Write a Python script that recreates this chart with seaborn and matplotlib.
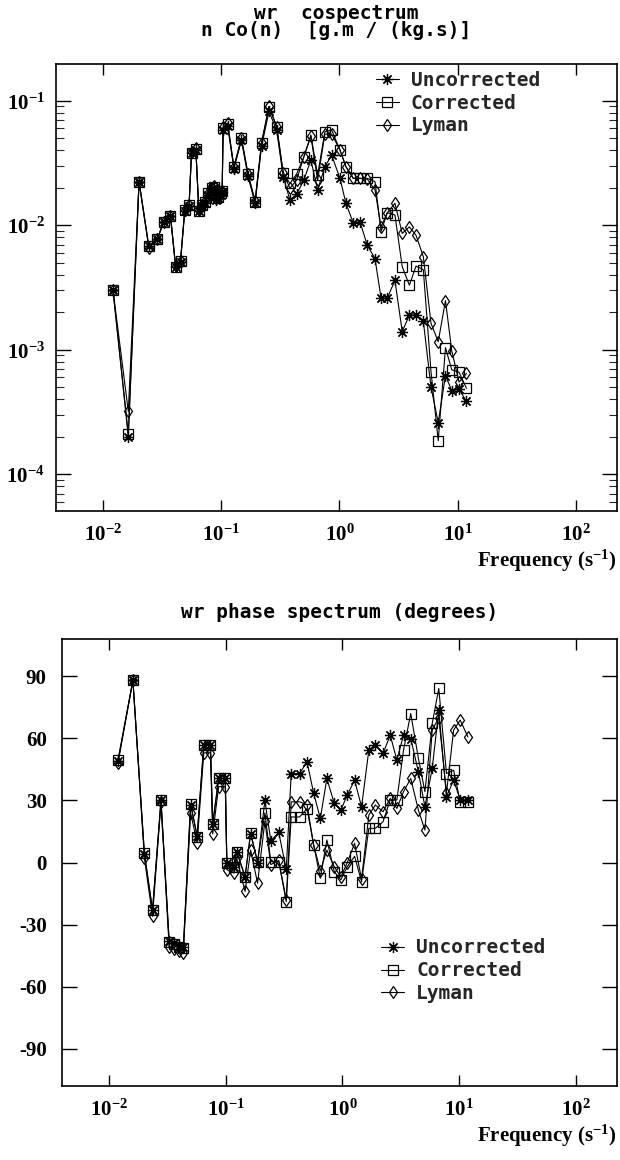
import math
import matplotlib
matplotlib.use("Agg")
import matplotlib.pyplot as plt
import seaborn as sns
from matplotlib.ticker import FixedLocator, LogLocator, NullFormatter, FuncFormatter

# ---------------------------------------------------------------- data
# cospectrum n*Co(n) of w and r, [g.m / (kg.s)]
cosp_freq = [0.0121, 0.0163, 0.0201, 0.0243, 0.0286, 0.0326, 0.0371, 0.041, 0.0451, 0.049,
             0.0533, 0.0559, 0.0608, 0.0645, 0.0692, 0.0729, 0.0773, 0.0826, 0.0864, 0.0897,
             0.094, 0.0984, 0.1016, 0.1035, 0.113, 0.1277, 0.148, 0.168, 0.193, 0.219,
             0.253, 0.294, 0.334, 0.381, 0.434, 0.5, 0.573, 0.653, 0.753, 0.859,
             1.01, 1.135, 1.31, 1.49, 1.72, 2.0, 2.25, 2.54, 2.95, 3.4,
             3.91, 4.45, 5.13, 5.96, 6.86, 7.9, 8.93, 10.3, 11.9]
cosp_uncorrected = [0.0030, 2.0e-4, 0.0224, 0.0068, 0.0077, 0.0107, 0.0119, 0.0046, 0.0051, 0.013,
                    0.0143, 0.038, 0.0405, 0.013, 0.0143, 0.0152, 0.0176, 0.0194, 0.020, 0.016,
                    0.0165, 0.0176, 0.0184, 0.058, 0.063, 0.0285, 0.048, 0.0248, 0.015, 0.043,
                    0.082, 0.058, 0.0245, 0.0159, 0.0178, 0.0231, 0.0334, 0.0192, 0.0295, 0.0366,
                    0.0238, 0.015, 0.0104, 0.0107, 0.0069, 0.0054, 0.0026, 0.0026, 0.0036, 0.0014,
                    0.0019, 0.0019, 0.0017, 5.0e-4, 2.6e-4, 6.2e-4, 4.7e-4, 4.8e-4, 3.85e-4]
cosp_corrected = [0.0030, 2.1e-4, 0.0224, 0.0068, 0.0077, 0.0107, 0.0119, 0.00465, 0.00515, 0.0132,
                  0.0145, 0.0382, 0.0409, 0.0131, 0.0145, 0.0155, 0.018, 0.0198, 0.0204, 0.0164,
                  0.0169, 0.018, 0.0188, 0.060, 0.065, 0.0292, 0.0499, 0.0256, 0.0155, 0.0455,
                  0.0895, 0.0618, 0.0261, 0.0217, 0.0258, 0.0355, 0.053, 0.0253, 0.0564, 0.0582,
                  0.0402, 0.0295, 0.0238, 0.0238, 0.0238, 0.0224, 0.0089, 0.0126, 0.0121, 0.00465,
                  0.0033, 0.0047, 0.0044, 6.65e-4, 1.86e-4, 1.04e-3, 6.9e-4, 6.6e-4, 4.9e-4]
cosp_lyman = [0.0030, 3.2e-4, 0.0224, 0.0066, 0.0077, 0.0107, 0.0119, 0.0047, 0.0052, 0.0133,
              0.0146, 0.039, 0.0415, 0.0132, 0.0146, 0.0157, 0.0182, 0.020, 0.0206, 0.0166,
              0.0171, 0.0182, 0.019, 0.061, 0.066, 0.0295, 0.050, 0.026, 0.0157, 0.046,
              0.090, 0.062, 0.0265, 0.0198, 0.0231, 0.0355, 0.052, 0.023, 0.054, 0.054,
              0.0402, 0.0295, 0.0238, 0.0238, 0.0235, 0.0192, 0.0097, 0.0126, 0.015, 0.0086,
              0.0097, 0.0083, 0.0056, 0.00163, 0.00116, 0.00248, 9.8e-4, 5.5e-4, 6.45e-4]

# phase spectrum of w and r, degrees
phase_freq = [0.0120, 0.0161, 0.0202, 0.0237, 0.0280, 0.0329, 0.0362, 0.0400, 0.0435, 0.0502,
              0.0571, 0.0651, 0.0742, 0.0776, 0.0873, 0.0994, 0.1026, 0.1169, 0.1247, 0.1469,
              0.1638, 0.1878, 0.2170, 0.2438, 0.2851, 0.3305, 0.3645, 0.4296, 0.498, 0.5675,
              0.647, 0.736, 0.851, 0.968, 1.102, 1.271, 1.458, 1.683, 1.914, 2.225,
              2.566, 2.924, 3.333, 3.845, 4.469, 5.083, 5.871, 6.68, 7.77, 8.95,
              10.19, 11.85]
phase_uncorrected = [49, 88, 4, -23, 30, -38, -39, -40.5, -41, 28,
                     13, 57, 57, 18.6, 40.6, 40.6, 0, -2, 5, -7,
                     14, 0, 30, 10.5, 14.5, -3.3, 43, 43, 48.6, 33.4,
                     21.3, 40.6, 28.6, 25.3, 32.6, 39.8, 26.9, 54.3, 56.7, 52.7,
                     61.5, 49.5, 61.5, 59.9, 43.8, 26.9, 45.5, 73.6, 31.8, 39.8,
                     30.2, 30.2]
phase_corrected = [49.5, 88, 4.4, -23, 30, -38.5, -39.5, -41, -41.5, 28.5,
                   12.5, 57, 57, 18.6, 40.6, 40.6, -0.4, -2, 5.2, -6.8,
                   14.4, 0.4, 24, 0.4, 0.4, -18.9, 22, 22, 26, 8.4,
                   -7.6, 10.9, -4.4, -8.4, -2, 3, -9.3, 16.5, 16.5, 19.7,
                   30.2, 30.2, 54.3, 72, 50.3, 34.2, 67.2, 84.1, 43, 44.6,
                   29.3, 29.3]
phase_lyman = [48, 88, 2, -26, 29, -41, -42, -43, -43.5, 24,
               9.5, 53, 53, 13.8, 36.7, 36.7, -3.5, -5, 2, -14,
               6, -10, 20, -1, 1, -18, 29.3, 29.3, 28, 8.4,
               -4, 6, -2, -7, 0, 9.3, -8, 22.9, 27.8, 24.5,
               31, 26.1, 34.2, 40.6, 25.3, 15.7, 64, 70, 33.7, 64,
               68.8, 60.7]

series_names = ["Uncorrected", "Corrected", "Lyman"]
x_ticks = [1e-2, 1e-1, 1e0, 1e1, 1e2]
cosp_ticks = [1e-4, 1e-3, 1e-2, 1e-1]
phase_ticks = [-90, -60, -30, 0, 30, 60, 90]
phase_tick_labels = ["-90", "-60", "-30", "0", "30", "60", "90"]

# ---------------------------------------------------------------- style
sns.set_theme(style="white")
plt.rcParams["font.family"] = ["DejaVu Sans"]
plt.rcParams["mathtext.fontset"] = "custom"
plt.rcParams["mathtext.rm"] = "Liberation Serif:bold"
plt.rcParams["mathtext.it"] = "Liberation Serif:bold"
plt.rcParams["mathtext.bf"] = "Liberation Serif:bold"

MONO = "DejaVu Sans Mono"
SERIF = "Liberation Serif"
TICK_SIZE = 15
MONO_SIZE = 14

marker_styles = {
    "Uncorrected": dict(marker=(8, 2, 0), markersize=8),
    "Corrected": dict(marker="s", markersize=7.5),
    "Lyman": dict(marker="d", markersize=6.5),
}

fig = plt.figure(figsize=(6.2, 11.6), dpi=100)
ax_top = fig.add_axes([56 / 620, 1 - 511 / 1160, 561 / 620, 447 / 1160])
ax_bot = fig.add_axes([62 / 620, 1 - 1086 / 1160, 555 / 620, 447 / 1160])

for ax in (ax_top, ax_bot):
    ax.set_xscale("log")
ax_top.set_yscale("log")


def draw_series(ax, freq, series):
    for name, vals in zip(series_names, series):
        sns.lineplot(x=freq, y=vals, ax=ax, color="black", linewidth=0.8,
                     markerfacecolor="none", markeredgecolor="black",
                     markeredgewidth=0.9, label=name, sort=False,
                     estimator=None, **marker_styles[name])


draw_series(ax_top, cosp_freq, [cosp_uncorrected, cosp_corrected, cosp_lyman])
draw_series(ax_bot, phase_freq, [phase_uncorrected, phase_corrected, phase_lyman])


def sci_label(v, pos):
    return r"$10^{%d}$" % round(math.log10(v))


for ax in (ax_top, ax_bot):
    ax.set_xlim(10 ** -2.40, 10 ** 2.35)
    ax.xaxis.set_major_locator(FixedLocator(x_ticks))
    ax.xaxis.set_major_formatter(FuncFormatter(sci_label))
    ax.xaxis.set_minor_locator(FixedLocator([]))
    for sp in ax.spines.values():
        sp.set_color("black")
        sp.set_linewidth(1.2)
    ax.tick_params(axis="x", which="major", direction="in", length=8, width=1.0,
                   top=True, bottom=True, pad=9, labelsize=TICK_SIZE, colors="black")
    ax.tick_params(axis="y", which="major", direction="in", length=11, width=1.0,
                   left=True, right=True, pad=8, labelsize=TICK_SIZE, colors="black")
    ax.set_xlabel(r"Frequency (s$^{-1}$)", loc="right", fontfamily=SERIF,
                  fontweight="bold", fontsize=TICK_SIZE, labelpad=2, color="black")
    ax.set_ylabel("")

ax_top.set_ylim(10 ** -4.295, 10 ** -0.705)
ax_top.yaxis.set_major_locator(FixedLocator(cosp_ticks))
ax_top.yaxis.set_major_formatter(FuncFormatter(sci_label))
ax_top.yaxis.set_minor_locator(LogLocator(base=10, subs=range(2, 10)))
ax_top.yaxis.set_minor_formatter(NullFormatter())
ax_top.tick_params(axis="y", which="minor", direction="in", length=5.5, width=0.8,
                   left=True, right=True)

ax_bot.set_ylim(-108, 108)
ax_bot.yaxis.set_major_locator(FixedLocator(phase_ticks))
ax_bot.set_yticklabels(phase_tick_labels, fontfamily=SERIF, fontweight="bold")
ax_bot.tick_params(axis="y", which="major", pad=11)

ax_top.set_title("wr  cospectrum\nn Co(n)  [g.m / (kg.s)]", fontfamily=MONO,
                 fontweight="bold", fontsize=MONO_SIZE, linespacing=0.9, pad=20,
                 color="black")
ax_bot.set_title("wr phase spectrum (degrees)", fontfamily=MONO, fontweight="bold",
                 fontsize=MONO_SIZE, pad=15, color="black")

legend_kw = dict(loc="upper left", frameon=False, borderaxespad=0, borderpad=0,
                 handlelength=1.2, handletextpad=0.6, labelspacing=0.2,
                 prop={"family": MONO, "size": MONO_SIZE, "weight": "bold"})
ax_top.legend(bbox_to_anchor=(0.57, 0.985), **legend_kw)
ax_bot.legend(bbox_to_anchor=(0.575, 0.33), **legend_kw)

fig.savefig("out.png", dpi=100)
